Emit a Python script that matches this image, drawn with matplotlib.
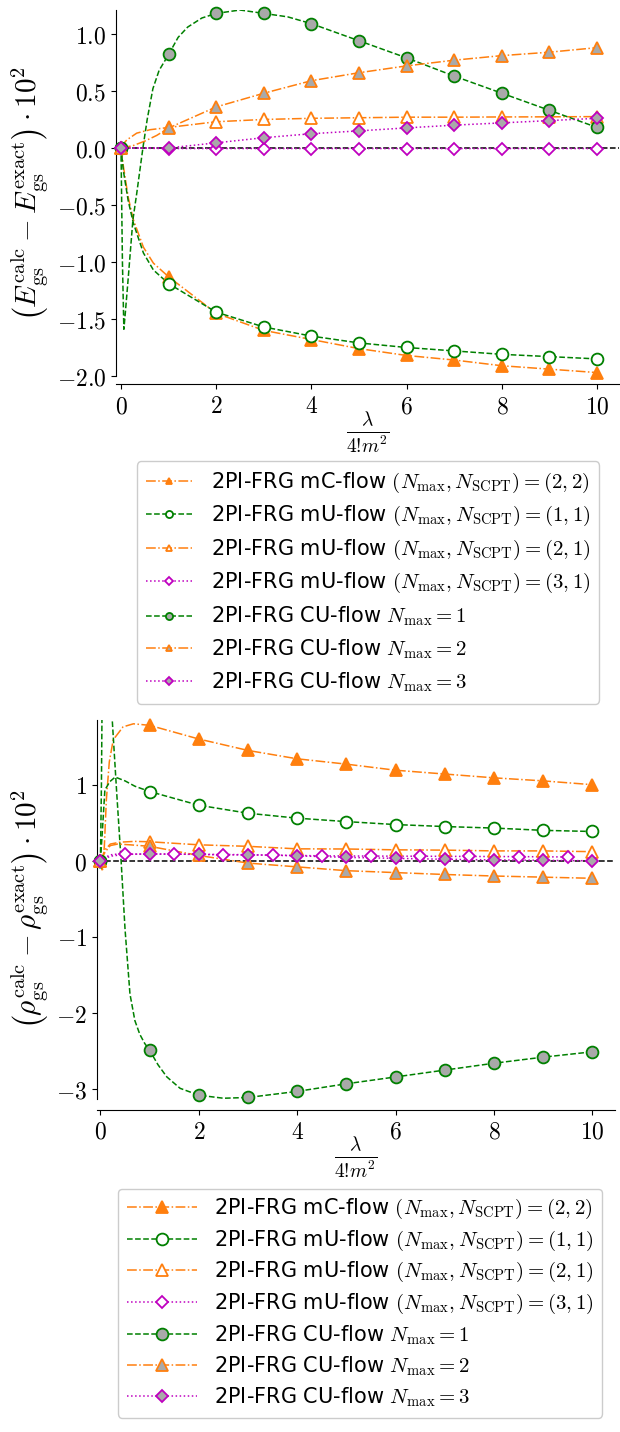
import matplotlib
matplotlib.use("Agg")
import matplotlib.pyplot as plt
from matplotlib.lines import Line2D
from matplotlib.ticker import FuncFormatter, FixedLocator

plt.rcParams['font.family'] = ['DejaVu Sans']
plt.rcParams['mathtext.fontset'] = 'cm'

# ---------------- data ----------------
lam = [0, 1, 2, 3, 4, 5, 6, 7, 8, 9, 10]
lam_half = [0, 0.5, 1.5, 2.5, 3.5, 4.5, 5.5, 6.5, 7.5, 8.5, 9.5]

labels = [
    r"2PI-FRG mC-flow $(N_{\rm max}, N_{\rm SCPT}) = (2,2)$",
    r"2PI-FRG mU-flow $(N_{\rm max}, N_{\rm SCPT}) = (1,1)$",
    r"2PI-FRG mU-flow $(N_{\rm max}, N_{\rm SCPT}) = (2,1)$",
    r"2PI-FRG mU-flow $(N_{\rm max}, N_{\rm SCPT}) = (3,1)$",
    r"2PI-FRG CU-flow $N_{\rm max} = 1$",
    r"2PI-FRG CU-flow $N_{\rm max} = 2$",
    r"2PI-FRG CU-flow $N_{\rm max} = 3$",
]

# top panel: ground-state energy deviation (markers at integer lambda)
E_mC22 = [0, -1.13, -1.45, -1.60, -1.68, -1.76, -1.82, -1.86, -1.91, -1.94, -1.97]
E_mU11 = [0, -1.19, -1.44, -1.57, -1.65, -1.71, -1.75, -1.78, -1.81, -1.83, -1.85]
E_mU21 = [0, 0.18, 0.23, 0.25, 0.26, 0.265, 0.27, 0.27, 0.272, 0.273, 0.275]
E_mU31 = [0, -0.005, -0.005, -0.005, -0.005, -0.005, -0.005, -0.005, -0.005, -0.005, -0.005]
E_CU1 = [0, 0.82, 1.18, 1.18, 1.09, 0.94, 0.79, 0.63, 0.48, 0.33, 0.18]
E_CU2 = [0, 0.175, 0.36, 0.48, 0.59, 0.66, 0.72, 0.77, 0.81, 0.84, 0.88]
E_CU3 = [0, 0.0, 0.045, 0.09, 0.125, 0.15, 0.176, 0.20, 0.22, 0.24, 0.26]

# top panel: additional points (small lambda / between markers)
E_mC22_cx = [0.05, 0.15, 0.26, 0.47, 0.68]
E_mC22_cy = [-0.16, -0.43, -0.63, -0.87, -1.01]
E_mU11_cx = [0.05, 0.15, 0.26, 0.47, 0.68]
E_mU11_cy = [-0.20, -0.46, -0.66, -0.92, -1.07]
E_mU21_cx = [0.04, 0.12, 0.33, 0.61]
E_mU21_cy = [0.03, 0.07, 0.13, 0.16]
E_CU1_cx = [0.03, 0.06, 0.09, 0.15, 0.25, 0.33, 0.46, 0.55, 0.67, 0.8, 1.2, 1.4, 1.7, 2.5, 3.5]
E_CU1_cy = [-1.0, -1.59, -1.45, -1.15, -0.63, -0.40, 0.0, 0.25, 0.52, 0.68, 0.97, 1.06, 1.14, 1.21, 1.15]
E_CU2_cx = [0.25, 0.5, 0.75]
E_CU2_cy = [0.02, 0.06, 0.11]

# bottom panel: ground-state density deviation
R_mC22 = [0, 1.78, 1.60, 1.45, 1.34, 1.27, 1.19, 1.14, 1.09, 1.05, 1.00]
R_mU11 = [0, 0.91, 0.73, 0.625, 0.56, 0.515, 0.476, 0.45, 0.43, 0.40, 0.385]
R_mU21 = [0, 0.25, 0.21, 0.19, 0.157, 0.155, 0.144, 0.14, 0.13, 0.13, 0.12]
R_mU31 = [0, 0.088, 0.088, 0.079, 0.075, 0.065, 0.062, 0.06, 0.057, 0.055, 0.05]  # at lam_half
R_CU1 = [0, -2.49, -3.08, -3.11, -3.03, -2.93, -2.84, -2.75, -2.66, -2.58, -2.51]
R_CU2 = [0, 0.19, 0.07, -0.03, -0.08, -0.13, -0.155, -0.18, -0.20, -0.215, -0.23]
R_CU3 = [0, 0.09, 0.085, 0.08, 0.065, 0.045, 0.032, 0.02, 0.012, 0.006, 0.0]

R_mC22_cx = [0.04, 0.08, 0.12, 0.18, 0.26, 0.46, 0.67]
R_mC22_cy = [-0.14, 0.2, 0.8, 1.3, 1.59, 1.76, 1.80]
R_mU11_cx = [0.04, 0.09, 0.19, 0.3, 0.5, 0.7]
R_mU11_cy = [0.4, 0.93, 1.04, 1.10, 1.05, 0.98]
R_mU21_cx = [0.1, 0.2, 0.4, 0.7]
R_mU21_cy = [0.15, 0.22, 0.245, 0.255]
R_mU31_cx = [0.1, 0.25]
R_mU31_cy = [0.05, 0.085]
R_CU1_cx = [0.02, 0.035, 0.1, 0.22, 0.24, 0.33, 0.42, 0.5, 0.6, 0.7, 0.8, 0.9, 1.17, 1.35, 1.62, 2.5]
R_CU1_cy = [1.0, 2.2, 4.0, 2.2, 1.85, 0.9, 0.0, -0.9, -1.75, -2.1, -2.28, -2.4, -2.68, -2.84, -2.99, -3.12]
R_CU2_cx = [0.1, 0.2, 0.35, 0.6]
R_CU2_cy = [0.12, 0.2, 0.22, 0.21]
R_CU3_cx = [0.2, 0.5]
R_CU3_cy = [0.06, 0.085]

# ---------------- styles ----------------
ORANGE = '#ff7f0e'
GREEN = 'green'
MAG = 'm'
GRAY = 'darkgray'
styles = [
    dict(color=ORANGE, ls='-.', marker='^', mfc=ORANGE, mec=ORANGE),
    dict(color=GREEN, ls='--', marker='o', mfc='white', mec=GREEN),
    dict(color=ORANGE, ls='-.', marker='^', mfc='white', mec=ORANGE),
    dict(color=MAG, ls=':', marker='D', mfc='white', mec=MAG),
    dict(color=GREEN, ls='--', marker='o', mfc=GRAY, mec=GREEN),
    dict(color=ORANGE, ls='-.', marker='^', mfc=GRAY, mec=ORANGE),
    dict(color=MAG, ls=':', marker='D', mfc=GRAY, mec=MAG),
]
msizes = [8, 8.5, 8, 6.5, 8.5, 8, 6.5]


def merge(mx, my, cx, cy):
    pts = sorted(list(zip(mx, my)) + list(zip(cx, cy)))
    return [p[0] for p in pts], [p[1] for p in pts]


def draw(ax, series):
    for i, (mx, my, cx, cy) in enumerate(series):
        st = styles[i]
        lx, ly = merge(mx, my, cx, cy)
        ax.plot(lx, ly, color=st['color'], ls=st['ls'], lw=1.1, zorder=2 + i * 0.1)
        ax.plot(mx, my, ls='none', marker=st['marker'], ms=msizes[i],
                mfc=st['mfc'], mec=st['mec'], mew=1.3, zorder=3 + i * 0.1, clip_on=False)
    ax.axhline(0, color='black', ls='--', lw=1.1, zorder=1.5)


def style_axes(ax, yticks, fmt, offset):
    for s in ['top', 'right']:
        ax.spines[s].set_visible(False)
    ax.spines['bottom'].set_position(('outward', offset))
    ax.xaxis.set_major_locator(FixedLocator([0, 2, 4, 6, 8, 10]))
    ax.xaxis.set_major_formatter(FuncFormatter(lambda v, p: r'$%d$' % v))
    ax.yaxis.set_major_locator(FixedLocator(yticks))
    ax.yaxis.set_major_formatter(FuncFormatter(lambda v, p: (r'$' + fmt + r'$') % v))
    ax.tick_params(labelsize=17)
    ax.set_xlabel(r'$\frac{\lambda}{4!\!m^2}$', fontsize=20, labelpad=-6)


def handles():
    hs = []
    for i in range(7):
        st = styles[i]
        hs.append(Line2D([], [], color=st['color'], ls=st['ls'], lw=1.1, marker=st['marker'],
                         ms=msizes[i], mfc=st['mfc'], mec=st['mec'], mew=1.3))
    return hs


fig = plt.figure(figsize=(6.2, 14.32), dpi=100)

# top panel
ax1 = fig.add_axes([116 / 620, 1 - 376 / 1432, 503 / 620, 366 / 1432])
draw(ax1, [
    (lam, E_mC22, E_mC22_cx, E_mC22_cy),
    (lam, E_mU11, E_mU11_cx, E_mU11_cy),
    (lam, E_mU21, E_mU21_cx, E_mU21_cy),
    (lam, E_mU31, [], []),
    (lam, E_CU1, E_CU1_cx, E_CU1_cy),
    (lam, E_CU2, E_CU2_cx, E_CU2_cy),
    (lam, E_CU3, [], []),
])
ax1.set_xlim(-0.105, 10.46)
ax1.set_ylim(-2.0, 1.21)
style_axes(ax1, [-2.0, -1.5, -1.0, -0.5, 0.0, 0.5, 1.0], '%.1f', 6)
ax1.set_ylabel(r'$\left(E_{\rm gs}^{\rm calc}-E_{\rm gs}^{\rm exact}\right)\cdot 10^2$',
               fontsize=21, labelpad=4)

fig.legend(handles(), labels, loc='upper center', bbox_to_anchor=(368 / 620, 1 - 451 / 1432),
           fontsize=15, markerscale=0.6, handlelength=2.2, handletextpad=0.9, labelspacing=0.45,
           borderpad=0.45, frameon=True, framealpha=1, edgecolor='#cccccc', fancybox=True)

# bottom panel
ax2 = fig.add_axes([97 / 620, 1 - 1099 / 1432, 518 / 620, 379 / 1432])
draw(ax2, [
    (lam, R_mC22, R_mC22_cx, R_mC22_cy),
    (lam, R_mU11, R_mU11_cx, R_mU11_cy),
    (lam, R_mU21, R_mU21_cx, R_mU21_cy),
    (lam_half, R_mU31, R_mU31_cx, R_mU31_cy),
    (lam, R_CU1, R_CU1_cx, R_CU1_cy),
    (lam, R_CU2, R_CU2_cx, R_CU2_cy),
    (lam, R_CU3, R_CU3_cx, R_CU3_cy),
])
ax2.set_xlim(-0.07, 10.46)
ax2.set_ylim(-3.13, 1.85)
style_axes(ax2, [-3, -2, -1, 0, 1], '%d', 8)
ax2.set_ylabel(r'$\left(\rho_{\rm gs}^{\rm calc}-\rho_{\rm gs}^{\rm exact}\right)\cdot 10^2$',
               fontsize=21, labelpad=4)

fig.legend(handles(), labels, loc='lower center', bbox_to_anchor=(360 / 620, 1 - 1428 / 1432),
           fontsize=15, markerscale=1.0, handlelength=3.4, handletextpad=0.8, labelspacing=0.36,
           borderpad=0.4, frameon=True, framealpha=1, edgecolor='#cccccc', fancybox=True)

fig.savefig('out.png', dpi=100)
